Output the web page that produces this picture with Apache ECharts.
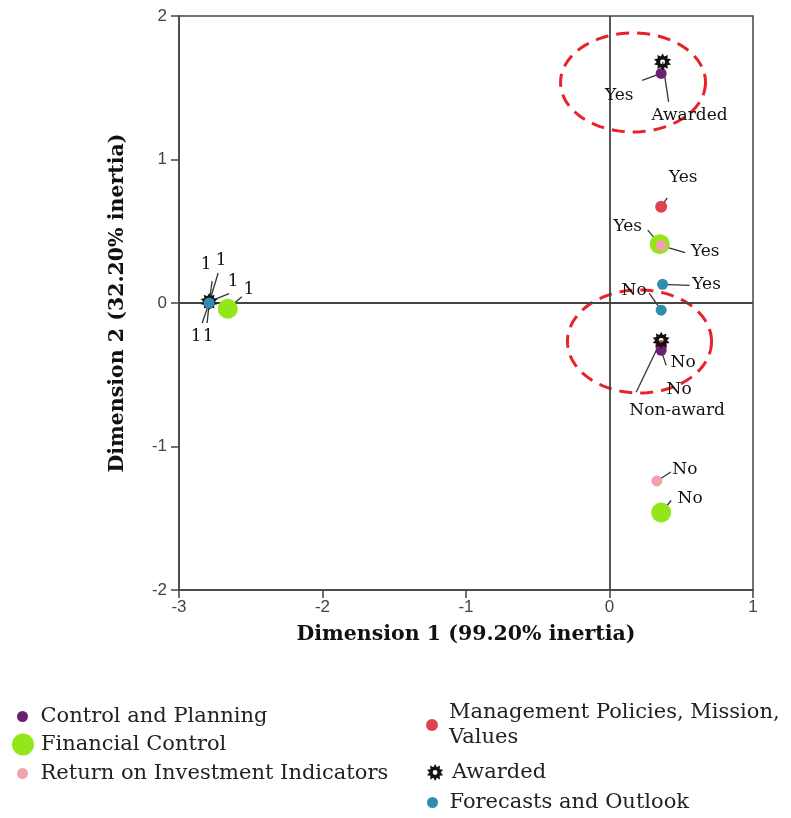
<!DOCTYPE html>
<html><head><meta charset="utf-8">
<script src="https://cdn.jsdelivr.net/npm/echarts@6/dist/echarts.min.js"></script>
<style>html,body{margin:0;padding:0;background:#fff}#c{width:791px;height:818px}</style>
</head><body><div id="c"></div>
<script>
// ---- data ----
const catYesNo = ['Yes', 'No', '1'];
const catAward = ['Awarded', 'Non-award', '1'];
const cpX = [0.36, 0.36, -2.79];  const cpY = [1.60, -0.33, 0.00];   // Control and Planning
const mgX = [0.36, 0.36, -2.79];  const mgY = [0.67, -0.30, 0.00];   // Management Policies
const fcX = [0.35, 0.36, -2.66];  const fcY = [0.41, -1.46, -0.04];  // Financial Control
const roiX = [0.36, 0.33, -2.79]; const roiY = [0.40, -1.24, 0.00];  // ROI Indicators
const foX = [0.37, 0.36, -2.79];  const foY = [0.13, -0.05, 0.00];   // Forecasts and Outlook
const awX = [0.37, 0.36, -2.79];  const awY = [1.68, -0.26, 0.01];   // Awarded
const xTicks = [-3, -2, -1, 0, 1];
const yTicks = [-2, -1, 0, 1, 2];
// annotation ellipses (data units): centre x, centre y, radius x, radius y
const ellCX = [0.164, 0.209];
const ellCY = [1.537, -0.268];
const ellRX = [0.505, 0.502];
const ellRY = [0.345, 0.359];

// ---- label text offsets and leader-line end offsets (px, relative to the point) ----
const offCP = [[-42, 22], [22, 12], [-3, -38]];
const lnCP  = [[-19, 7], [5, 15], [3, -22]];
const offMG = [[22, -29], [18, 44], [12, -42]];
const lnMG  = [[6, -9], [0, 0], [9, -30]];
const offFC = [[-32, -18], [29, -14], [21, -19]];
const lnFC  = [[-12, -14], [10, -12], [14, -12]];
const offROI = [[44, 6], [28, -11], [-13, 34]];
const lnROI  = [[24, 7], [14, -9], [-7, 20]];
const offFO = [[44, 0], [-27, -20], [-1, 34]];
const lnFO  = [[27, 1], [-12, -17], [-2, 20]];
const offAW = [[27, 54], [16, 70], [24, -20]];
const lnAW  = [[6, 40], [-25, 52], [20, -8]];

function starPath() {
  let d = '';
  const n = 10;
  for (let i = 0; i < 2 * n; i++) {
    const r = i % 2 === 0 ? 50 : 33;
    const a = Math.PI * i / n - Math.PI / 2;
    d += (i ? 'L' : 'M') + (50 + r * Math.cos(a)).toFixed(2) + ' ' + (50 + r * Math.sin(a)).toFixed(2) + ' ';
  }
  d += 'Z M 64 50 A 14 14 0 1 0 36 50 A 14 14 0 1 0 64 50 Z';
  return 'path://' + d;
}
const STAR = starPath();

const SERIF = 'DejaVu Serif';
function pts(xs, ys) { return xs.map((x, i) => [x, ys[i]]); }
function mk(name, xs, ys, cats, offs, color, size, symbol) {
  return {
    type: 'scatter', name: name, data: pts(xs, ys),
    symbol: symbol || 'circle', symbolSize: size,
    itemStyle: { color: color, opacity: 1 },
    label: { show: true, position: 'inside', formatter: p => cats[p.dataIndex],
      color: '#111', fontFamily: SERIF, fontSize: 17 },
    labelLayout: p => ({ dx: offs[p.dataIndex][0], dy: offs[p.dataIndex][1], hideOverlap: false }),
    emphasis: { disabled: true },
    z: 5
  };
}
// leader lines: data built from the point arrays + leader offsets
const leaderData = [];
[[cpX, cpY, lnCP], [mgX, mgY, lnMG], [fcX, fcY, lnFC], [roiX, roiY, lnROI], [foX, foY, lnFO], [awX, awY, lnAW]]
  .forEach(([xs, ys, ln]) => xs.forEach((x, i) => leaderData.push([x, ys[i], ln[i][0], ln[i][1]])));

const chart = echarts.init(document.getElementById('c'));
const legendBase = {
  orient: 'vertical', selectedMode: false, padding: 0,
  textStyle: { fontFamily: SERIF, fontSize: 21, color: '#222', lineHeight: 25 },
  itemStyle: { borderWidth: 0 }
};
chart.setOption({
  animation: false,
  backgroundColor: '#fff',
  grid: { left: 179, right: 38, top: 16, bottom: 228, show: true, borderColor: '#444', borderWidth: 1.5, containLabel: false },
  xAxis: {
    type: 'value', min: xTicks[0], max: xTicks[xTicks.length - 1], interval: 1,
    name: 'Dimension 1 (99.20% inertia)', nameLocation: 'middle', nameGap: 34,
    nameTextStyle: { fontFamily: SERIF, fontWeight: 'bold', fontSize: 20.5, color: '#111' },
    axisLine: { show: true, onZero: false, lineStyle: { color: '#444', width: 1.5 } },
    axisTick: { show: true, length: 8, lineStyle: { color: '#444', width: 1.5 } },
    axisLabel: { fontFamily: 'Liberation Sans', fontSize: 17, color: '#444', margin: 9 },
    splitLine: { show: false }
  },
  yAxis: {
    type: 'value', min: yTicks[0], max: yTicks[yTicks.length - 1], interval: 1,
    name: 'Dimension 2 (32.20% inertia)', nameLocation: 'middle', nameGap: 51,
    nameTextStyle: { fontFamily: SERIF, fontWeight: 'bold', fontSize: 20.5, color: '#111' },
    axisLine: { show: true, onZero: false, lineStyle: { color: '#444', width: 1.5 } },
    axisTick: { show: true, length: 8, lineStyle: { color: '#444', width: 1.5 } },
    axisLabel: { fontFamily: 'Liberation Sans', fontSize: 17, color: '#444', margin: 12 },
    splitLine: { show: false }
  },
  legend: [
    Object.assign({}, legendBase, { data: [{ name: 'Control and Planning', icon: 'circle' }], left: 17, top: 704, itemWidth: 26, itemHeight: 11 }),
    Object.assign({}, legendBase, { data: [{ name: 'Financial Control', icon: 'circle' }], left: 12, top: 732, itemWidth: 26, itemHeight: 22 }),
    Object.assign({}, legendBase, { data: [{ name: 'Return on Investment Indicators', icon: 'circle' }], left: 17, top: 761, itemWidth: 26, itemHeight: 11 }),
    Object.assign({}, legendBase, { data: [{ name: 'Management Policies, Mission, Values', icon: 'circle' }], left: 426, top: 700, itemWidth: 24, itemHeight: 12,
      formatter: n => n.replace(', Values', ',\nValues') }),
    Object.assign({}, legendBase, { data: [{ name: 'Awarded', icon: STAR }], left: 427, top: 760, itemWidth: 24, itemHeight: 17 }),
    Object.assign({}, legendBase, { data: [{ name: 'Forecasts and Outlook', icon: 'circle' }], left: 427, top: 790, itemWidth: 24, itemHeight: 11 })
  ],
  series: [
    {
      type: 'scatter', data: [], silent: true, z: 1,
      markLine: { silent: true, symbol: ['none', 'none'], label: { show: false },
        lineStyle: { color: '#444', width: 1.8, type: 'solid' }, emphasis: { disabled: true },
        data: [{ xAxis: 0 }, { yAxis: 0 }] }
    },
    {
      type: 'custom', silent: true, z: 2,
      data: ellCX.map((c, i) => [c, ellCY[i], ellRX[i], ellRY[i]]),
      renderItem: (params, api) => {
        const c = api.coord([api.value(0), api.value(1)]);
        const s = api.size([api.value(2), api.value(3)]);
        const points = [];
        for (let k = 0; k < 120; k++) {
          const a = 2 * Math.PI * k / 120;
          points.push([c[0] + s[0] * Math.cos(a), c[1] + s[1] * Math.sin(a)]);
        }
        return { type: 'polygon', shape: { points: points },
          style: { fill: 'none', stroke: '#e8222c', lineWidth: 3, lineDash: [13, 8] } };
      }
    },
    {
      type: 'custom', silent: true, z: 3, data: leaderData,
      renderItem: (params, api) => {
        const c = api.coord([api.value(0), api.value(1)]);
        const ex = api.value(2), ey = api.value(3);
        if (ex === 0 && ey === 0) return null;
        return { type: 'line', shape: { x1: c[0], y1: c[1], x2: c[0] + ex, y2: c[1] + ey },
          style: { stroke: '#333', lineWidth: 1.3 } };
      }
    },
    mk('Financial Control', fcX, fcY, catYesNo, offFC, '#93e619', 20),
    mk('Return on Investment Indicators', roiX, roiY, catYesNo, offROI, '#f0a3aa', 11),
    mk('Management Policies, Mission, Values', mgX, mgY, catYesNo, offMG, '#e2404c', 12),
    mk('Control and Planning', cpX, cpY, catYesNo, offCP, '#6b2170', 11),
    mk('Awarded', awX, awY, catAward, offAW, '#111', 17, STAR),
    mk('Forecasts and Outlook', foX, foY, catYesNo, offFO, '#2f8db0', 11)
  ]
});
</script>
</body></html>
